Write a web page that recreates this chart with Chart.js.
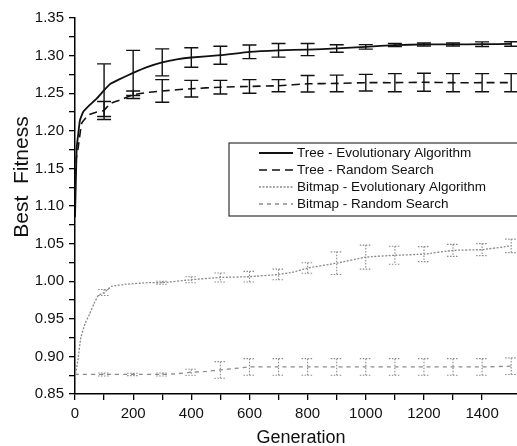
<!DOCTYPE html>
<html>
<head>
<meta charset="utf-8">
<script src="https://cdn.jsdelivr.net/npm/chart.js@4/dist/chart.umd.min.js"></script>
<style>
  html, body { margin: 0; padding: 0; background: #fff; }
  #chart { display: block; }
</style>
</head>
<body>
<canvas id="chart" width="517" height="446"></canvas>
<script>
// Series
const treeEaGen = [0, 3, 6, 17, 28, 50, 75, 100, 120, 150, 200, 250, 300, 350, 400, 500, 600, 700, 800, 900, 1000, 1100, 1200, 1300, 1400, 1500];
const treeEaFit = [1.085, 1.134, 1.178, 1.214, 1.225, 1.234, 1.243, 1.254, 1.262, 1.268, 1.277, 1.285, 1.291, 1.295, 1.2975, 1.3005, 1.305, 1.307, 1.308, 1.3095, 1.3116, 1.314, 1.3148, 1.3148, 1.3152, 1.3155];

const treeRsGen = [0, 5, 11, 23, 46, 75, 100, 120, 155, 180, 200, 250, 300, 400, 500, 600, 700, 800, 900, 1000, 1100, 1200, 1300, 1400, 1500];
const treeRsFit = [1.14, 1.165, 1.178, 1.21, 1.221, 1.225, 1.227, 1.236, 1.241, 1.245, 1.248, 1.251, 1.253, 1.256, 1.258, 1.259, 1.26, 1.2625, 1.263, 1.264, 1.264, 1.2645, 1.264, 1.264, 1.264];

const bmpEaGen = [0, 10, 20, 35, 50, 65, 80, 100, 125, 175, 250, 300, 400, 500, 600, 700, 750, 800, 900, 1000, 1100, 1200, 1300, 1400, 1500];
const bmpEaFit = [0.872, 0.895, 0.925, 0.944, 0.956, 0.970, 0.981, 0.985, 0.993, 0.996, 0.998, 0.998, 1.002, 1.005, 1.006, 1.009, 1.012, 1.0175, 1.024, 1.032, 1.0345, 1.036, 1.041, 1.042, 1.047];

const bmpRsGen = [0, 100, 200, 300, 350, 400, 450, 500, 550, 600, 700, 800, 900, 1000, 1100, 1200, 1300, 1400, 1500];
const bmpRsFit = [0.876, 0.876, 0.876, 0.876, 0.877, 0.879, 0.880, 0.882, 0.884, 0.886, 0.886, 0.886, 0.886, 0.886, 0.886, 0.886, 0.886, 0.886, 0.887];

// error bars every 100 generations
const barGens = [100, 200, 300, 400, 500, 600, 700, 800, 900, 1000, 1100, 1200, 1300, 1400, 1500];
const treeEaErr = [0.035, 0.03, 0.018, 0.013, 0.012, 0.009, 0.009, 0.008, 0.005, 0.003, 0.002, 0.002, 0.002, 0.003, 0.003];
const treeRsErr = [0.012, 0.005, 0.015, 0.011, 0.009, 0.009, 0.008, 0.011, 0.011, 0.011, 0.012, 0.012, 0.012, 0.012, 0.012];
const bmpEaErr = [0.004, 0.001, 0.002, 0.004, 0.006, 0.007, 0.007, 0.007, 0.015, 0.016, 0.012, 0.010, 0.008, 0.008, 0.009];
const bmpRsErr = [0.002, 0.0015, 0.002, 0.004, 0.011, 0.011, 0.011, 0.011, 0.011, 0.011, 0.011, 0.011, 0.011, 0.011, 0.011];

const xTicksLabelled = [0, 200, 400, 600, 800, 1000, 1200, 1400];

const FONT = "'Liberation Sans', Arial, sans-serif";

function points(gens, vals) {
  return gens.map((g, i) => ({ x: g, y: vals[i] }));
}

// draws the vertical error bars with caps
const errorBarPlugin = {
  id: "errorBars",
  afterDatasetsDraw(chart) {
    const ctx = chart.ctx;
    const xs = chart.scales.x;
    const ys = chart.scales.y;
    chart.data.datasets.forEach((ds) => {
      if (!ds.errors) return;
      ctx.save();
      ctx.strokeStyle = ds.borderColor;
      ctx.lineWidth = ds.barWidth;
      ctx.setLineDash(ds.barDash);
      barGens.forEach((g, i) => {
        const pt = ds.data.find((p) => p.x === g);
        if (!pt) return;
        const x = xs.getPixelForValue(g);
        const yTop = ys.getPixelForValue(pt.y + ds.errors[i]);
        const yBot = ys.getPixelForValue(pt.y - ds.errors[i]);
        const half = ds.capHalf;
        ctx.beginPath();
        ctx.moveTo(x, yTop);
        ctx.lineTo(x, yBot);
        ctx.moveTo(x - half, yTop);
        ctx.lineTo(x + half, yTop);
        ctx.moveTo(x - half, yBot);
        ctx.lineTo(x + half, yBot);
        ctx.stroke();
      });
      ctx.restore();
    });
  },
};

// boxed legend inside the plot, like the original
const legendBoxPlugin = {
  id: "legendBox",
  afterDraw(chart) {
    const ctx = chart.ctx;
    const left = 229, top = 143, right = 522, bottom = 216;
    ctx.save();
    ctx.strokeStyle = "#333";
    ctx.lineWidth = 1.2;
    ctx.setLineDash([]);
    ctx.strokeRect(left, top, right - left, bottom - top);
    ctx.font = "13.5px " + FONT;
    ctx.textBaseline = "middle";
    ctx.fillStyle = "#111";
    chart.data.datasets.forEach((ds, i) => {
      const y = 153 + i * 17;
      ctx.strokeStyle = ds.borderColor;
      ctx.lineWidth = ds.borderWidth;
      ctx.setLineDash(ds.borderDash || []);
      ctx.beginPath();
      ctx.moveTo(259, y);
      ctx.lineTo(293, y);
      ctx.stroke();
      ctx.fillText(ds.label, 297, y);
    });
    ctx.restore();
  },
};

// axis titles
const axisTitlePlugin = {
  id: "axisTitles",
  afterDraw(chart) {
    const ctx = chart.ctx;
    ctx.save();
    ctx.fillStyle = "#111";
    ctx.textAlign = "center";
    ctx.textBaseline = "middle";
    ctx.font = "18px " + FONT;
    ctx.fillText("Generation", (chart.chartArea.left + chart.chartArea.right) / 2 + 5, 438);
    ctx.translate(22, 177);
    ctx.rotate(-Math.PI / 2);
    ctx.font = "21px " + FONT;
    ctx.fillText("Best  Fitness", 0, 0);
    ctx.restore();
  },
};

const ctx = document.getElementById("chart").getContext("2d");
new Chart(ctx, {
  type: "line",
  data: {
    datasets: [
      {
        label: "Tree - Evolutionary Algorithm",
        data: points(treeEaGen, treeEaFit),
        borderColor: "#111",
        borderWidth: 1.8,
        borderDash: [],
        errors: treeEaErr,
        barWidth: 1.4,
        barDash: [],
        capHalf: 7,
      },
      {
        label: "Tree - Random Search",
        data: points(treeRsGen, treeRsFit),
        borderColor: "#111",
        borderWidth: 1.6,
        borderDash: [8, 5],
        errors: treeRsErr,
        barWidth: 1.4,
        barDash: [],
        capHalf: 7,
      },
      {
        label: "Bitmap - Evolutionary Algorithm",
        data: points(bmpEaGen, bmpEaFit),
        borderColor: "#8a8a8a",
        borderWidth: 1.3,
        borderDash: [2, 1.5],
        errors: bmpEaErr,
        barWidth: 1.1,
        barDash: [1.5, 1.5],
        capHalf: 6,
      },
      {
        label: "Bitmap - Random Search",
        data: points(bmpRsGen, bmpRsFit),
        borderColor: "#8a8a8a",
        borderWidth: 1.3,
        borderDash: [4, 4],
        errors: bmpRsErr,
        barWidth: 1.1,
        barDash: [1.5, 1.5],
        capHalf: 6,
      },
    ],
  },
  options: {
    responsive: false,
    animation: false,
    devicePixelRatio: 1,
    layout: { padding: { top: 18, right: 0, left: 0, bottom: 0 } },
    elements: { point: { radius: 0 }, line: { tension: 0.1 } },
    plugins: { legend: { display: false }, title: { display: false }, tooltip: { enabled: false } },
    scales: {
      x: {
        type: "linear",
        min: 0,
        max: 1520,
        border: { color: "#000", width: 1.5 },
        grid: { drawOnChartArea: false, drawTicks: true, tickLength: 6, color: "#000", lineWidth: 1.3 },
        ticks: {
          stepSize: 100,
          autoSkip: false,
          maxRotation: 0,
          padding: 5,
          color: "#111",
          font: { family: FONT, size: 15 },
          callback: (v) => (xTicksLabelled.includes(v) ? String(v) : ""),
        },
        afterBuildTicks: (scale) => {
          scale.ticks = scale.ticks.filter((t) => t.value <= 1500);
        },
        afterFit: (scale) => { scale.height = 52; },
      },
      y: {
        type: "linear",
        min: 0.85,
        max: 1.35,
        border: { color: "#000", width: 1.5 },
        grid: { drawOnChartArea: false, drawTicks: true, tickLength: 6, color: "#000", lineWidth: 1.3 },
        ticks: {
          stepSize: 0.025,
          autoSkip: false,
          padding: 5,
          color: "#111",
          font: { family: FONT, size: 15 },
          callback: (v) => (Math.round(v * 1000) % 50 === 0 ? v.toFixed(2) : ""),
        },
        afterFit: (scale) => { scale.width = 75; },
      },
    },
  },
  plugins: [errorBarPlugin, legendBoxPlugin, axisTitlePlugin],
});
</script>
</body>
</html>
